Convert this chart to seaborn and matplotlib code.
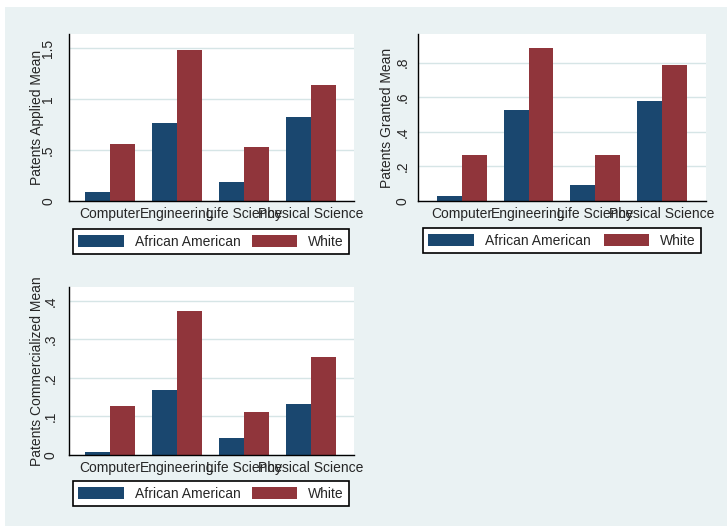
import pandas as pd
import matplotlib.pyplot as plt
import seaborn as sns
from matplotlib.patches import Rectangle

# --- datos ---
fields = ["Computer", "Engineering", "Life Science", "Physical Science"]
groups = ["African American", "White"]

applied_aa = [0.090, 0.765, 0.183, 0.826]
applied_white = [0.556, 1.483, 0.530, 1.140]
granted_aa = [0.029, 0.524, 0.091, 0.576]
granted_white = [0.264, 0.883, 0.264, 0.784]
commerc_aa = [0.009, 0.168, 0.045, 0.132]
commerc_white = [0.128, 0.373, 0.112, 0.255]

# --- estilo tipo Stata s2color ---
BG = "#eaf2f3"
GRID = "#d6e5e6"
NAVY = "#1a476f"
MAROON = "#90353b"

sns.set_style("white")
plt.rcParams.update({
    "font.family": ["Liberation Sans", "DejaVu Sans"],
    "font.size": 10,
    "axes.linewidth": 1.0,
})

W, H = 727, 526
fig = plt.figure(figsize=(W / 100, H / 100), dpi=100, facecolor="white")
fig.patches.append(Rectangle((5 / W, 0), 1 - 5 / W, 1 - 7 / H,
                             transform=fig.transFigure, facecolor=BG,
                             edgecolor="none", zorder=-10))


def px_axes(left, top, right, bottom):
    return fig.add_axes([left / W, 1 - bottom / H, (right - left) / W, (bottom - top) / H])


def make_df(aa, white):
    return pd.DataFrame({
        "field": fields * 2,
        "group": [groups[0]] * len(fields) + [groups[1]] * len(fields),
        "value": list(aa) + list(white),
    })


def panel(ax, df, ylabel, ticks, ticklabels, ylim, xlim, tpad, label_x, leg_box):
    sns.barplot(data=df, x="field", y="value", hue="group", hue_order=groups,
                palette=[NAVY, MAROON], width=0.745, saturation=1,
                edgecolor=None, linewidth=0, ax=ax)
    leg = ax.get_legend()
    handles = leg.legend_handles
    labels = [t.get_text() for t in leg.get_texts()]
    leg.remove()

    ax.set_facecolor("white")
    ax.set_xlim(*xlim)
    ax.set_ylim(*ylim)
    ax.set_yticks(ticks)
    ax.set_yticklabels(ticklabels)
    ax.yaxis.grid(True, color=GRID, linewidth=1.0)
    ax.set_axisbelow(True)
    for s in ["top", "right"]:
        ax.spines[s].set_visible(False)
    for s in ["left", "bottom"]:
        ax.spines[s].set_color("black")
    ax.tick_params(axis="y", length=5, width=1, color="black", pad=tpad,
                   labelrotation=90, labelsize=10)
    for lab in ax.get_yticklabels():
        lab.set_va("center")
    ax.tick_params(axis="x", length=0, pad=4, labelsize=10)
    ax.set_xlabel("")
    ax.set_ylabel(ylabel, fontsize=10)
    ax.yaxis.set_label_coords(label_x, 0.5)

    x0, y0, x1, y1 = leg_box
    lg = ax.legend(handles, labels, loc="upper left", ncol=2, mode="expand",
                   bbox_to_anchor=(x0 / W, 1 - y0 / H, (x1 - x0) / W, 0),
                   bbox_transform=fig.transFigure, borderaxespad=0,
                   fontsize=10, handlelength=3.3, handleheight=1.0,
                   handletextpad=0.75, borderpad=0.4, frameon=True,
                   fancybox=False, framealpha=1)
    lg.get_frame().set_edgecolor("black")
    lg.get_frame().set_linewidth(1.2)
    lg.get_frame().set_facecolor("white")


ax1 = px_axes(69, 34, 354, 201)
panel(ax1, make_df(applied_aa, applied_white), "Patents Applied Mean",
      [0, 0.5, 1, 1.5], ["0", ".5", "1", "1.5"], (0, 1.637), (-0.612, 3.642),
      5, (44 - 69) / 285, (72.7, 229, 349, 254))

ax2 = px_axes(418, 34, 706, 201)
panel(ax2, make_df(granted_aa, granted_white), "Patents Granted Mean",
      [0, 0.2, 0.4, 0.6, 0.8], ["0", ".2", ".4", ".6", ".8"], (0, 0.965), (-0.659, 3.663),
      1, (394 - 418) / 288, (422.7, 228.3, 701, 254))

ax3 = px_axes(69, 287, 354, 455)
panel(ax3, make_df(commerc_aa, commerc_white), "Patents Commercialized Mean",
      [0, 0.1, 0.2, 0.3, 0.4], ["0", ".1", ".2", ".3", ".4"], (0, 0.436), (-0.612, 3.642),
      3, (44 - 69) / 285, (72.7, 481, 349, 505.7))

fig.savefig("out.png", dpi=100, facecolor=fig.get_facecolor())
